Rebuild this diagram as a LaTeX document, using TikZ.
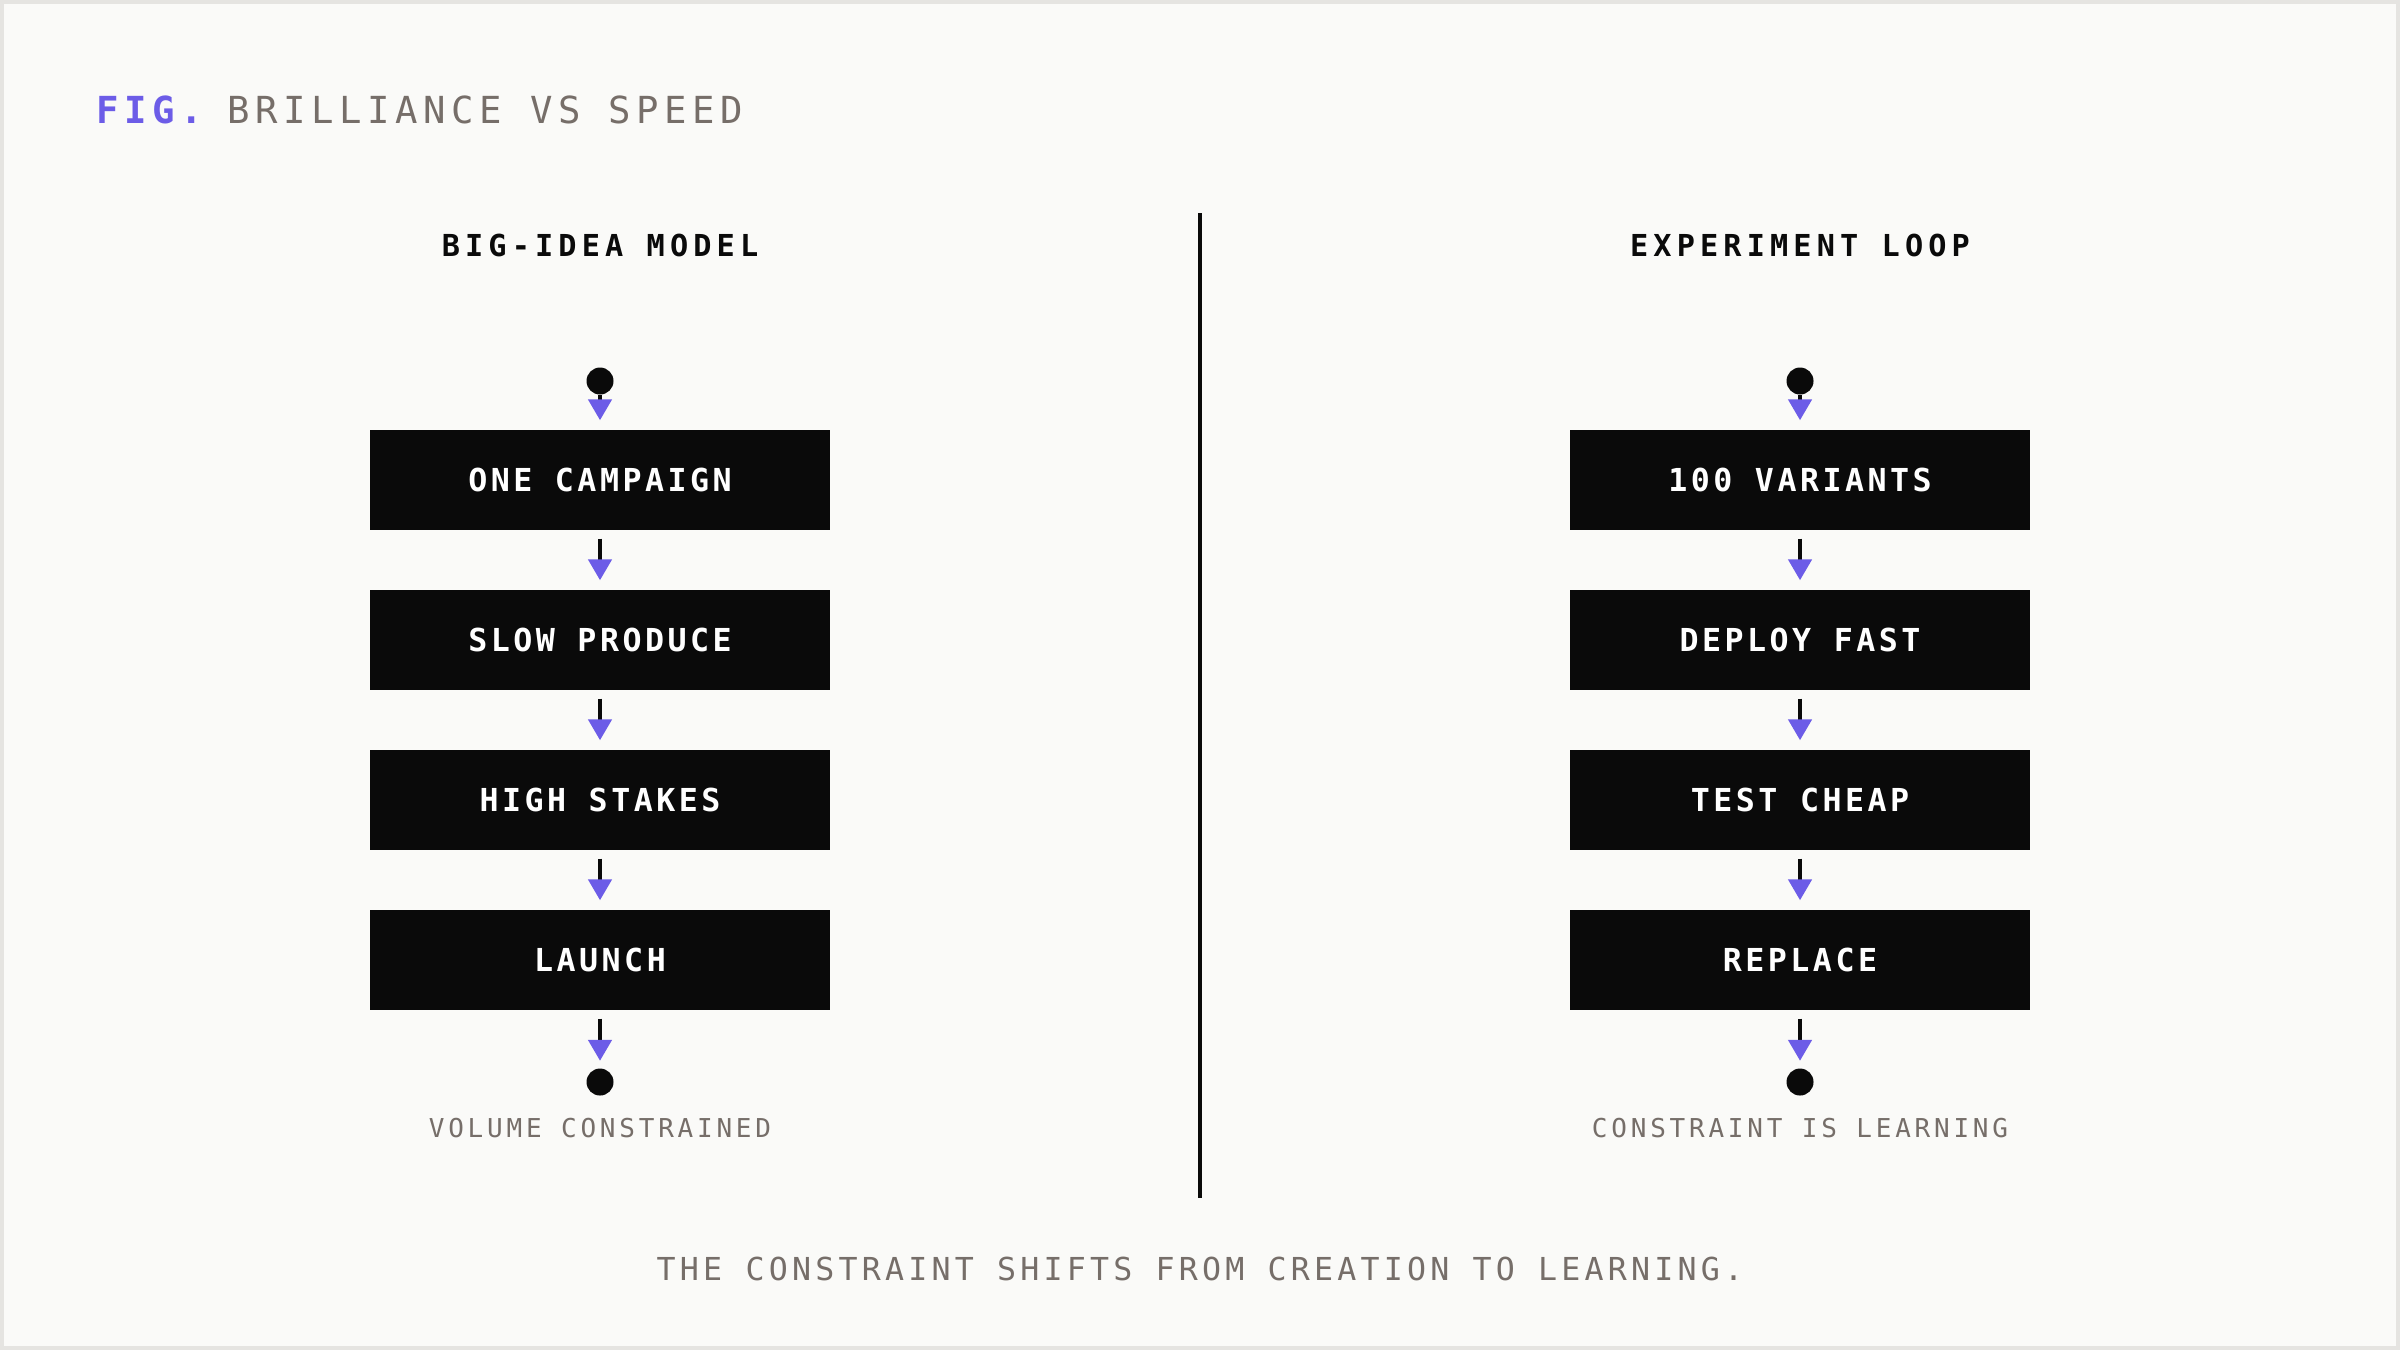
\documentclass[tikz,border=0pt]{standalone}
\usepackage{fontspec}
\usetikzlibrary{arrows.meta}
\newfontfamily\bvmono{DejaVu Sans Mono}
\definecolor{bvInk}{HTML}{0A0A0A}
\definecolor{bvPurple}{HTML}{6C5CE7}
\definecolor{bvGrey}{HTML}{766E69}
\definecolor{bvPaper}{HTML}{FAFAF8}
\definecolor{bvFrame}{HTML}{E5E4E1}
\tikzset{
  stepbox/.style={
    fill=bvInk, text=white, inner sep=0pt,
    minimum width=4.6cm, minimum height=1cm,
    font=\bvmono\bfseries\fontsize{9}{11}\selectfont\addfontfeature{LetterSpace=11}
  },
  colhead/.style={anchor=base, inner sep=0pt, text=bvInk,
    font=\bvmono\bfseries\fontsize{8.6}{10}\selectfont\addfontfeature{LetterSpace=17}},
  endlbl/.style={anchor=base, inner sep=0pt, text=bvGrey,
    font=\bvmono\fontsize{7.4}{9}\selectfont\addfontfeature{LetterSpace=14.5}},
  dot/.style={circle, fill=bvInk, inner sep=0pt, minimum size=2.7mm},
  flow/.style={-{Triangle[length=2.1mm, width=2.3mm, color=bvPurple]},
    line width=1.3pt, draw=bvInk, shorten <=0.8mm, shorten >=0.9mm},
}
\begin{document}
\begin{tikzpicture}
  % paper and frame
  \fill[bvPaper] (0,0) rectangle (24,-13.5);
  \draw[bvFrame, line width=0.04cm] (0.02,-0.02) rectangle (23.98,-13.48);
  \useasboundingbox (0,0) rectangle (24,-13.5);

  % title
  \node[anchor=base west, inner sep=0pt, text=bvGrey,
    font=\bvmono\fontsize{10.6}{12}\selectfont\addfontfeature{LetterSpace=15}]
    (title) at (0.96,-1.23) {{\color{bvPurple}\bfseries FIG.}\hspace{-0.1em} BRILLIANCE VS SPEED};

  % divider
  \coordinate (divtop) at (12,-2.13);
  \coordinate (divbot) at (12,-11.98);
  \draw[bvInk, line width=1.3pt] (divtop) -- (divbot);

  % Big-idea model
  \node[colhead] (lhead) at (6,-2.56) {BIG-IDEA MODEL};
  \node[dot] (lstart) at (6,-3.81) {};
  \node[stepbox] (one)    at (6,-4.80) {ONE CAMPAIGN};
  \node[stepbox] (slow)   at (6,-6.40) {SLOW PRODUCE};
  \node[stepbox] (stakes) at (6,-8.00) {HIGH STAKES};
  \node[stepbox] (launch) at (6,-9.60) {LAUNCH};
  \node[dot] (lend) at (6,-10.82) {};
  \node[endlbl] (lnote) at (6,-11.37) {VOLUME CONSTRAINED};
  \draw[flow, shorten <=0pt] (lstart) -- (one);
  \draw[flow] (one) -- (slow);
  \draw[flow] (slow) -- (stakes);
  \draw[flow] (stakes) -- (launch);
  \draw[flow, shorten >=0.7mm] (launch) -- (lend);

  % Experiment loop
  \node[colhead] (rhead) at (18,-2.56) {EXPERIMENT LOOP};
  \node[dot] (rstart) at (18,-3.81) {};
  \node[stepbox] (variants) at (18,-4.80) {100 VARIANTS};
  \node[stepbox] (deploy)   at (18,-6.40) {DEPLOY FAST};
  \node[stepbox] (test)     at (18,-8.00) {TEST CHEAP};
  \node[stepbox] (replace)  at (18,-9.60) {REPLACE};
  \node[dot] (rend) at (18,-10.82) {};
  \node[endlbl] (rnote) at (18,-11.37) {CONSTRAINT IS LEARNING};
  \draw[flow, shorten <=0pt] (rstart) -- (variants);
  \draw[flow] (variants) -- (deploy);
  \draw[flow] (deploy) -- (test);
  \draw[flow] (test) -- (replace);
  \draw[flow, shorten >=0.7mm] (replace) -- (rend);

  % caption
  \node[anchor=base, inner sep=0pt, text=bvGrey,
    font=\bvmono\fontsize{9}{11}\selectfont\addfontfeature{LetterSpace=13.3}]
    (caption) at (12,-12.80) {THE CONSTRAINT SHIFTS FROM CREATION TO LEARNING.};
\end{tikzpicture}
\end{document}
